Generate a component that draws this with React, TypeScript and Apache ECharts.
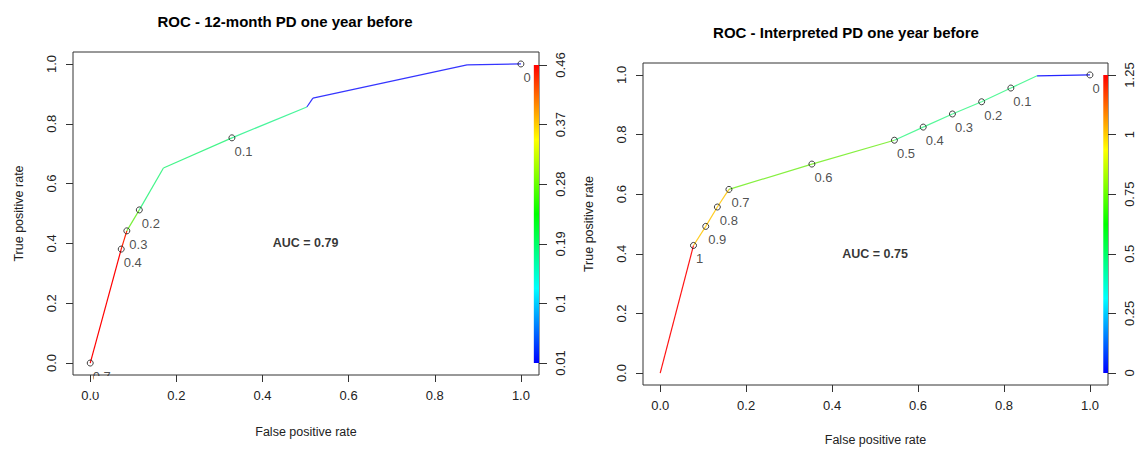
import React, { useEffect, useRef } from "react";
import * as echarts from "echarts";

// ---- data ----
const axisTicks = [0, 0.2, 0.4, 0.6, 0.8, 1];
const axisTickLabels = ["0.0", "0.2", "0.4", "0.6", "0.8", "1.0"];

const leftTitle = "ROC - 12-month PD one year before";
const leftFPR = [0, 0.072, 0.085, 0.114, 0.17, 0.329, 0.503, 0.517, 0.875, 1.0];
const leftTPR = [0, 0.381, 0.442, 0.512, 0.652, 0.753, 0.856, 0.886, 0.997, 1.0];
const leftCutLabels = ["0.7", "0.4", "0.3", "0.2", "", "0.1", "", "", "", "0"];
const leftSegColors = ["#FF0000", "#FF2200", "#78F03A", "#44F58A", "#44F58A", "#48F59C", "#3535FF", "#3535FF", "#3535FF"];
const leftAUC = "AUC = 0.79";
const leftBarTicks = [0.01, 0.1, 0.19, 0.28, 0.37, 0.46];

const rightTitle = "ROC - Interpreted PD one year before";
const rightFPR = [0, 0.0775, 0.106, 0.133, 0.16, 0.353, 0.545, 0.612, 0.68, 0.748, 0.816, 0.877, 1.0];
const rightTPR = [0, 0.428, 0.492, 0.557, 0.616, 0.701, 0.781, 0.825, 0.869, 0.91, 0.956, 0.997, 1.0];
const rightCutLabels = ["", "1", "0.9", "0.8", "0.7", "0.6", "0.5", "0.4", "0.3", "0.2", "0.1", "", "0"];
const rightSegColors = ["#FF1515", "#FFCC22", "#FFCC22", "#FFCC22", "#86F040", "#86F040", "#55F898", "#55F898", "#55F898", "#55F898", "#55F898", "#2525FF"];
const rightAUC = "AUC = 0.75";
const rightBarTicks = [0, 0.25, 0.5, 0.75, 1, 1.25];

const colorbarStops = [
  { offset: 0, color: "#FF0000" },
  { offset: 0.125, color: "#FF8000" },
  { offset: 0.25, color: "#FFFF00" },
  { offset: 0.375, color: "#80FF00" },
  { offset: 0.5, color: "#00FF00" },
  { offset: 0.625, color: "#00FF80" },
  { offset: 0.75, color: "#00FFFF" },
  { offset: 0.875, color: "#0080FF" },
  { offset: 1, color: "#0000FF" },
];

const FONT = "'Liberation Sans', Arial, sans-serif";
const TXT = "#222";

function tickFmt(v: number) {
  const i = axisTicks.findIndex((t) => Math.abs(t - v) < 1e-9);
  return i >= 0 ? axisTickLabels[i] : "";
}

function baseX(grid: number, gap: number) {
  return {
    type: "value",
    gridIndex: grid,
    min: -0.04,
    max: 1.042,
    name: "False positive rate",
    nameLocation: "middle",
    nameGap: gap,
    nameTextStyle: { fontFamily: FONT, fontSize: 12.5, color: TXT },
    axisLine: { show: false, onZero: false },
    axisTick: { show: true, length: 7, customValues: axisTicks, lineStyle: { color: "#333" } },
    axisLabel: { customValues: axisTicks, formatter: tickFmt, margin: 14, fontFamily: FONT, fontSize: 13, color: TXT },
    splitLine: { show: false },
  };
}

function baseY(grid: number, min: number, max: number) {
  return {
    type: "value",
    gridIndex: grid,
    min,
    max,
    name: "True positive rate",
    nameLocation: "middle",
    nameGap: 48,
    nameTextStyle: { fontFamily: FONT, fontSize: 12.5, color: TXT },
    axisLine: { show: false, onZero: false },
    axisTick: { show: true, length: 7, customValues: axisTicks, lineStyle: { color: "#333" } },
    axisLabel: { customValues: axisTicks, formatter: tickFmt, rotate: 90, margin: 15, fontFamily: FONT, fontSize: 13, color: TXT },
    splitLine: { show: false },
  };
}

function barAxis(grid: number, min: number, max: number, ticks: number[]) {
  return {
    type: "value",
    gridIndex: grid,
    position: "right",
    min,
    max,
    axisLine: { show: false, onZero: false },
    axisTick: { show: true, length: 8, customValues: ticks, lineStyle: { color: "#333" } },
    axisLabel: { customValues: ticks, rotate: 90, margin: 15, fontFamily: FONT, fontSize: 13, color: TXT },
    splitLine: { show: false },
  };
}

function segSeries(xi: number, yi: number, fpr: number[], tpr: number[], colors: string[]) {
  const data = colors.map((c, i) => ({
    coords: [
      [fpr[i], tpr[i]],
      [fpr[i + 1], tpr[i + 1]],
    ],
    lineStyle: { color: c },
  }));
  return {
    type: "lines",
    coordinateSystem: "cartesian2d",
    xAxisIndex: xi,
    yAxisIndex: yi,
    data,
    lineStyle: { width: 1.2, opacity: 1 },
    z: 3,
  };
}

function pointSeries(xi: number, yi: number, fpr: number[], tpr: number[], labels: string[]) {
  const data: any[] = [];
  labels.forEach((l, i) => {
    if (l !== "") data.push({ value: [fpr[i], tpr[i]], name: l });
  });
  return {
    type: "scatter",
    xAxisIndex: xi,
    yAxisIndex: yi,
    data,
    symbol: "circle",
    symbolSize: 6,
    itemStyle: { color: "rgba(0,0,0,0)", borderColor: "#111", borderWidth: 1 },
    label: {
      show: true,
      formatter: (p: any) => p.name,
      position: [6, 17],
      align: "left",
      verticalAlign: "middle",
      fontFamily: FONT,
      fontSize: 13,
      color: TXT,
    },
    z: 5,
  };
}

function aucSeries(xi: number, yi: number, text: string) {
  return {
    type: "scatter",
    xAxisIndex: xi,
    yAxisIndex: yi,
    symbolSize: 1,
    itemStyle: { color: "rgba(0,0,0,0)" },
    data: [[0.5, 0.4]],
    label: {
      show: true,
      position: "inside",
      formatter: text,
      fontFamily: FONT,
      fontSize: 12.5,
      fontWeight: "bold",
      color: "#000",
    },
  };
}

function barSeries(xi: number, yi: number, x0: number, x1: number, v0: number, v1: number) {
  return {
    type: "custom",
    xAxisIndex: xi,
    yAxisIndex: yi,
    data: [[x0, x1, v0, v1]],
    encode: { x: [0, 1], y: [2, 3] },
    renderItem: (params: any, api: any) => {
      const p0 = api.coord([api.value(0), api.value(3)]);
      const p1 = api.coord([api.value(1), api.value(2)]);
      return {
        type: "rect",
        shape: { x: p0[0], y: p0[1], width: p1[0] - p0[0], height: p1[1] - p0[1] },
        style: { fill: new echarts.graphic.LinearGradient(0, 0, 0, 1, colorbarStops) },
      };
    },
    z: 2,
  };
}

export default function App() {
  const ref = useRef<HTMLDivElement>(null);
  useEffect(() => {
    document.body.style.margin = "0";
    const chart = echarts.init(ref.current!, null, { renderer: "svg" });
    const option: any = {
      animation: false,
      backgroundColor: "#fff",
      textStyle: { fontFamily: FONT },
      grid: [
        { left: 73, top: 52, width: 466, height: 323, show: true, borderColor: "#333", borderWidth: 1, backgroundColor: "transparent" },
        { left: 643, top: 63, width: 465, height: 322, show: true, borderColor: "#333", borderWidth: 1, backgroundColor: "transparent" },
      ],
      xAxis: [baseX(0, 50), baseX(1, 48)],
      yAxis: [
        baseY(0, -0.04, 1.04),
        barAxis(0, 0.01 - 12 / 662.2, 0.46 + 13 / 662.2, leftBarTicks),
        baseY(1, -0.04, 1.04),
        barAxis(1, 0 - 12 / 238.4, 1.25 + 12 / 238.4, rightBarTicks),
      ],
      series: [
        barSeries(0, 1, 1.03, 1.042, 0.01, 0.46),
        segSeries(0, 0, leftFPR, leftTPR, leftSegColors),
        pointSeries(0, 0, leftFPR, leftTPR, leftCutLabels),
        aucSeries(0, 0, leftAUC),
        barSeries(1, 3, 1.031, 1.042, 0, 1.25),
        segSeries(1, 2, rightFPR, rightTPR, rightSegColors),
        pointSeries(1, 2, rightFPR, rightTPR, rightCutLabels),
        aucSeries(1, 2, rightAUC),
      ],
      graphic: [
        {
          type: "text",
          x: 285,
          y: 21,
          style: { text: leftTitle, align: "center", verticalAlign: "middle", fontFamily: FONT, fontSize: 15, fontWeight: "bold", fill: "#000" },
        },
        {
          type: "text",
          x: 846,
          y: 32,
          style: { text: rightTitle, align: "center", verticalAlign: "middle", fontFamily: FONT, fontSize: 15, fontWeight: "bold", fill: "#000" },
        },
        {
          type: "rect",
          shape: { x: 94, y: 376, width: 30, height: 16 },
          style: { fill: "#fff" },
          z: 100,
        },
      ],
    };
    chart.setOption(option);
    return () => chart.dispose();
  }, []);
  return <div ref={ref} style={{ width: 1136, height: 453 }} />;
}
